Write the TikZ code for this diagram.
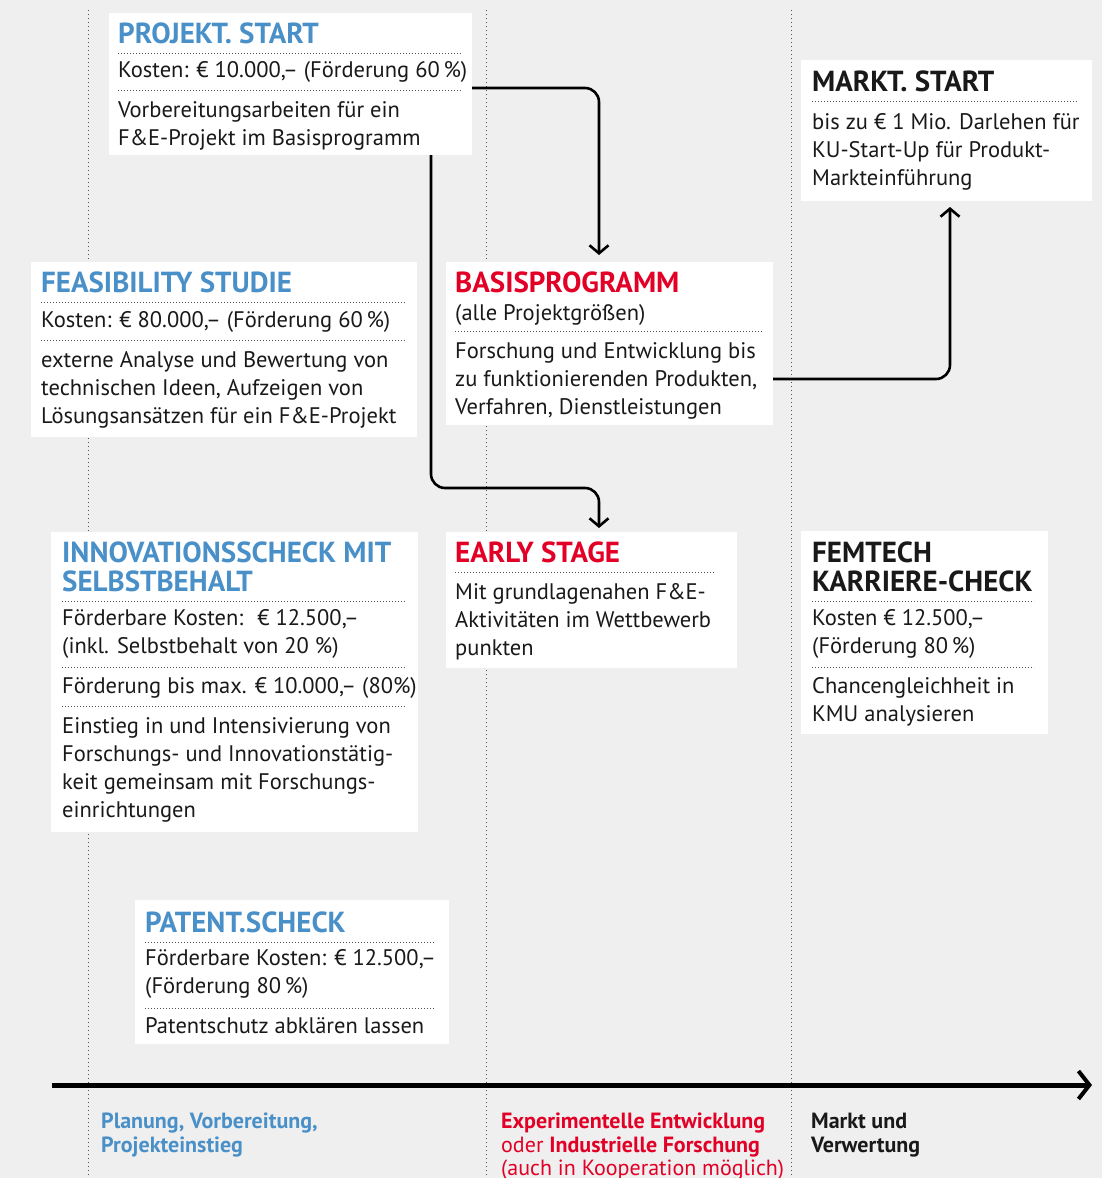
\documentclass[tikz,border=0pt]{standalone}
\usepackage{fontspec}
\setmainfont{PT Sans}
\usetikzlibrary{arrows.meta}
\definecolor{bg}{RGB}{239,239,239}
\definecolor{fblue}{RGB}{74,144,200}
\definecolor{fred}{RGB}{226,0,38}
\definecolor{dotc}{RGB}{80,80,80}
\definecolor{ink}{RGB}{25,25,25}
\tikzset{
  box/.style={fill=white, draw=none, anchor=north west, inner sep=0pt, outer sep=0pt},
  hd/.style={anchor=base west, inner sep=0pt, font=\fontsize{29}{31}\selectfont\bfseries},
  tx/.style={anchor=base west, inner sep=0pt, text=ink, font=\fontsize{22.5}{28}\selectfont},
  lb/.style={anchor=base west, inner sep=0pt, font=\fontsize{22}{24.5}\selectfont},
  sep/.style={draw=dotc, line width=0.9pt, dash pattern=on 0.9pt off 2.1pt},
  vsep/.style={draw=dotc, line width=1pt, dash pattern=on 1pt off 3pt},
  conn/.style={draw=black, line width=2.6pt, rounded corners=14pt, -{Straight Barb[length=8pt,width=19pt,line width=2.6pt]}},
  axis/.style={draw=black, line width=5pt, -{Straight Barb[length=11pt,width=28pt,line width=4pt]}},
}
\begin{document}
\begin{tikzpicture}[x=1pt,y=-1pt]
\useasboundingbox (0,0) rectangle (1102,1178);
\fill[bg] (0,0) rectangle (1102,1178);
% vertical dotted guides
\coordinate (g1t) at (88,10);  \coordinate (g1b) at (88,1178);
\coordinate (g2t) at (486,10); \coordinate (g2b) at (486,1178);
\coordinate (g3t) at (791,10); \coordinate (g3b) at (791,1178);
\draw[vsep] (g1t) -- (g1b);
\draw[vsep] (g2t) -- (g2b);
\draw[vsep] (g3t) -- (g3b);

% ---------- PROJEKT. START
\node[box, minimum width=363pt, minimum height=142pt] (b1) at (109,13) {};
\node[hd, text=fblue] (h1) at (118,43) {PROJEKT. START};
\draw[sep] (118,53) -- (462,53);
\node[tx] (c1) at (118,77) {Kosten: € 10.000,– (Förderung 60\,\%)};
\draw[sep] (118,90) -- (462,90);
\node[tx] (d1a) at (118,117) {Vorbereitungsarbeiten für ein};
\node[tx] (d1b) at (118,145) {F\&E-Projekt im Basisprogramm};

% ---------- MARKT. START
\node[box, minimum width=291pt, minimum height=141pt] (b2) at (801,60) {};
\node[hd, text=ink] (h2) at (812,91) {MARKT. START};
\draw[sep] (812,101) -- (1078,101);
\node[tx] (d2a) at (812,129) {bis zu € 1 Mio. Darlehen für};
\node[tx] (d2b) at (812,157) {KU-Start-Up für Produkt-};
\node[tx] (d2c) at (812,185) {Markteinführung};

% ---------- FEASIBILITY STUDIE
\node[box, minimum width=386pt, minimum height=175pt] (b3) at (31,262) {};
\node[hd, text=fblue] (h3) at (41,292) {FEASIBILITY STUDIE};
\draw[sep] (41,302) -- (406,302);
\node[tx] (c3) at (41,327) {Kosten: € 80.000,– (Förderung 60\,\%)};
\draw[sep] (41,340) -- (406,340);
\node[tx] (d3a) at (41,367) {externe Analyse und Bewertung von};
\node[tx] (d3b) at (41,395) {technischen Ideen, Aufzeigen von};
\node[tx] (d3c) at (41,423) {Lösungsansätzen für ein F\&E-Projekt};

% ---------- BASISPROGRAMM
\node[box, minimum width=327pt, minimum height=163pt] (b4) at (446,262) {};
\node[hd, text=fred] (h4) at (455,292) {BASISPROGRAMM};
\node[tx] (c4) at (455,320) {(alle Projektgrößen)};
\draw[sep] (455,331) -- (763,331);
\node[tx] (d4a) at (455,358) {Forschung und Entwicklung bis};
\node[tx] (d4b) at (455,386) {zu funktionierenden Produkten,};
\node[tx] (d4c) at (455,414) {Verfahren, Dienstleistungen};

% ---------- INNOVATIONSSCHECK
\node[box, minimum width=367pt, minimum height=300pt] (b5) at (51,532) {};
\node[hd, text=fblue] (h5a) at (62,562) {INNOVATIONSSCHECK MIT};
\node[hd, text=fblue] (h5b) at (62,591) {SELBSTBEHALT};
\draw[sep] (62,601) -- (406,601);
\node[tx] (c5a) at (62,625) {Förderbare Kosten:~ € 12.500,–};
\node[tx] (c5b) at (62,653) {(inkl. Selbstbehalt von 20 \%)};
\draw[sep] (62,667) -- (406,667);
\node[tx] (e5) at (62,693) {Förderung bis max. € 10.000,– (80\%)};
\draw[sep] (62,706) -- (406,706);
\node[tx] (d5a) at (62,733) {Einstieg in und Intensivierung von};
\node[tx] (d5b) at (62,761) {Forschungs- und Innovationstätig-};
\node[tx] (d5c) at (62,789) {keit gemeinsam mit Forschungs-};
\node[tx] (d5d) at (62,817) {einrichtungen};

% ---------- EARLY STAGE
\node[box, minimum width=291pt, minimum height=136pt] (b6) at (446,532) {};
\node[hd, text=fred] (h6) at (455,562) {EARLY STAGE};
\draw[sep] (455,572) -- (714,572);
\node[tx] (d6a) at (455,599) {Mit grundlagenahen F\&E-};
\node[tx] (d6b) at (455,627) {Aktivitäten im Wettbewerb};
\node[tx] (d6c) at (455,655) {punkten};

% ---------- FEMTECH
\node[box, minimum width=247pt, minimum height=203pt] (b7) at (801,531) {};
\node[hd, text=ink] (h7a) at (812,562) {FEMTECH};
\node[hd, text=ink] (h7b) at (812,591) {KARRIERE-CHECK};
\draw[sep] (812,601) -- (1034,601);
\node[tx] (c7a) at (812,625) {Kosten € 12.500,–};
\node[tx] (c7b) at (812,653) {(Förderung 80\,\%)};
\draw[sep] (812,667) -- (1034,667);
\node[tx] (d7a) at (812,693) {Chancengleichheit in};
\node[tx] (d7b) at (812,721) {KMU analysieren};

% ---------- PATENT.SCHECK
\node[box, minimum width=314pt, minimum height=144pt] (b8) at (135,900) {};
\node[hd, text=fblue] (h8) at (145,932) {PATENT.SCHECK};
\draw[sep] (145,942) -- (435,942);
\node[tx] (c8a) at (145,965) {Förderbare Kosten: € 12.500,–};
\node[tx] (c8b) at (145,993) {(Förderung 80\,\%)};
\draw[sep] (145,1008) -- (435,1008);
\node[tx] (d8) at (145,1033) {Patentschutz abklären lassen};

% ---------- connectors
\coordinate (p1) at (472,88);
\coordinate (q1) at (599,255);
\draw[conn] (p1) -| (q1);
\coordinate (p2) at (431,155);
\coordinate (m2) at (599,488);
\coordinate (q2) at (599,528);
\draw[conn] (p2) |- (m2) -- (q2);
\coordinate (p3) at (773,379);
\coordinate (q3) at (950,207);
\draw[conn] (p3) -| (q3);

% ---------- axis
\coordinate (a0) at (52,1085);
\coordinate (a1) at (1092,1085);
\draw[axis] (a0) -- (a1);

\node[lb, text=fblue, font=\fontsize{22}{24.5}\selectfont\bfseries] (l1a) at (101,1128) {Planung, Vorbereitung,};
\node[lb, text=fblue, font=\fontsize{22}{24.5}\selectfont\bfseries] (l1b) at (101,1152) {Projekteinstieg};
\node[lb, text=fred] (l2a) at (501,1128) {\textbf{Experimentelle Entwicklung}};
\node[lb, text=fred] (l2b) at (501,1152) {oder \textbf{Industrielle Forschung}};
\node[lb, text=fred] (l2c) at (501,1175) {(auch in Kooperation möglich)};
\node[lb, text=ink, font=\fontsize{22}{24.5}\selectfont\bfseries] (l3a) at (811,1128) {Markt und};
\node[lb, text=ink, font=\fontsize{22}{24.5}\selectfont\bfseries] (l3b) at (811,1152) {Verwertung};
\end{tikzpicture}
\end{document}
